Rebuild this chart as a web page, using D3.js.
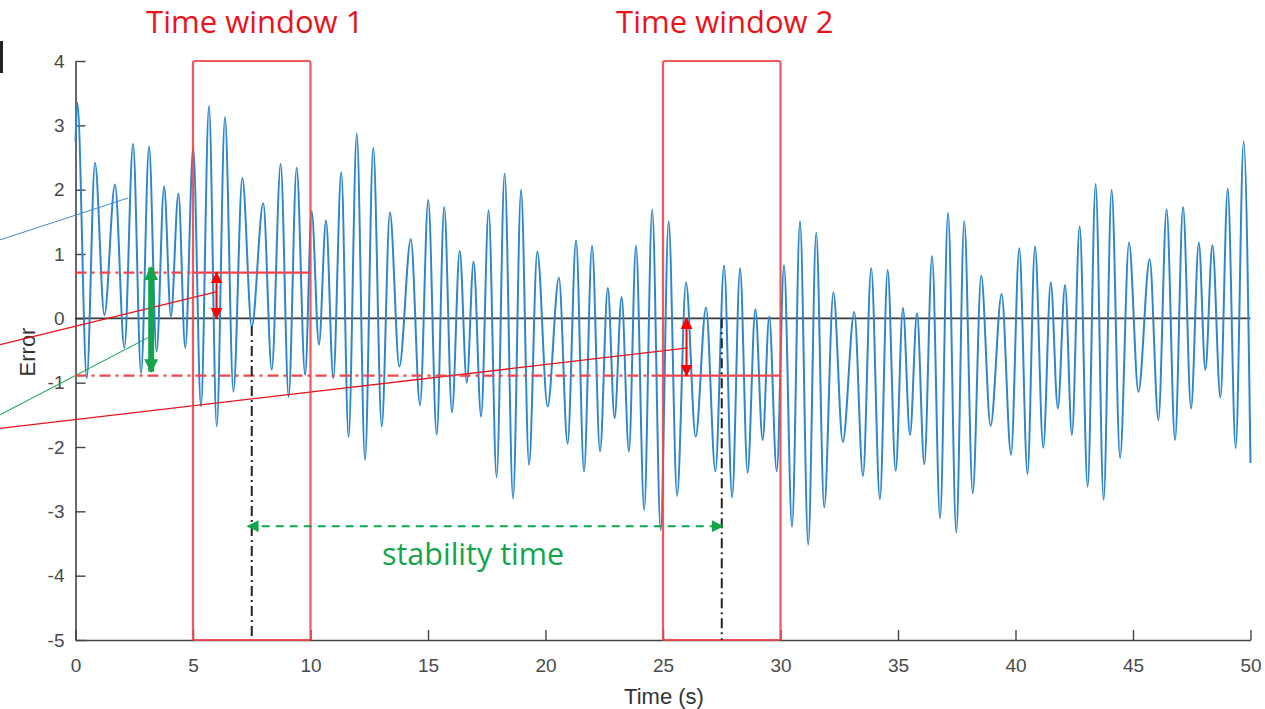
<!DOCTYPE html>
<html>
<head>
<meta charset="utf-8">
<script src="https://cdn.jsdelivr.net/npm/d3@7"></script>
<style>
    body { margin: 0; background: #fff; }
    svg { display: block; }
</style>
</head>
<body>
<svg id="chart" width="1265" height="709"></svg>
<script>
// Peaks and troughs of the error signal (s, error)
const times = [
    0, 0.08, 0.48, 0.83, 1.23, 1.68, 2.08, 2.45, 2.79, 3.13,
    3.45, 3.77, 4.06, 4.38, 4.67, 5.01, 5.34, 5.68, 6.01, 6.36,
    6.72, 7.10, 7.50, 7.99, 8.35, 8.73, 9.07, 9.41, 9.77, 10.05,
    10.36, 10.66, 10.97, 11.31, 11.62, 11.97, 12.32, 12.67, 13.03, 13.38,
    13.78, 14.27, 14.66, 15.01, 15.37, 15.69, 16.02, 16.35, 16.65, 16.94,
    17.26, 17.58, 17.92, 18.26, 18.62, 18.96, 19.30, 19.65, 20.09, 20.57,
    20.94, 21.30, 21.64, 21.98, 22.32, 22.65, 22.94, 23.24, 23.55, 23.85,
    24.20, 24.54, 24.90, 25.24, 25.60, 25.98, 26.39, 26.83, 27.23, 27.60,
    27.94, 28.28, 28.60, 28.93, 29.24, 29.52, 29.84, 30.15, 30.49, 30.83,
    31.18, 31.52, 31.86, 32.25, 32.65, 33.14, 33.51, 33.86, 34.23, 34.56,
    34.90, 35.21, 35.51, 35.81, 36.12, 36.45, 36.79, 37.13, 37.48, 37.82,
    38.18, 38.54, 38.94, 39.41, 39.81, 40.16, 40.51, 40.83, 41.18, 41.50,
    41.80, 42.11, 42.40, 42.73, 43.07, 43.41, 43.75, 44.09, 44.45, 44.83,
    45.23, 45.71, 46.08, 46.43, 46.79, 47.13, 47.47, 47.80, 48.08, 48.38,
    48.72, 49.03, 49.37, 49.71, 50
];
const errors = [
    2.75, 3.35, -0.93, 2.42, 0.05, 2.08, -0.46, 2.71, -0.85, 2.67,
    -0.52, 2.05, 0.03, 1.94, -0.46, 2.65, -1.37, 3.30, -1.68, 3.13,
    -1.14, 2.18, -0.13, 1.79, -0.80, 2.40, -1.22, 2.34, -0.88, 1.66,
    -0.41, 1.52, -0.93, 2.27, -1.84, 2.87, -2.20, 2.65, -1.68, 1.65,
    -0.75, 1.23, -1.35, 1.84, -1.81, 1.73, -1.46, 1.05, -1.00, 0.88,
    -1.53, 1.68, -2.47, 2.25, -2.80, 2.00, -2.28, 1.04, -1.37, 0.63,
    -1.95, 1.21, -2.38, 1.13, -2.07, 0.47, -1.55, 0.33, -2.07, 1.13,
    -2.98, 1.69, -3.29, 1.51, -2.76, 0.56, -1.84, 0.17, -2.38, 0.82,
    -2.78, 0.78, -2.40, 0.14, -1.89, 0.03, -2.38, 0.83, -3.24, 1.51,
    -3.52, 1.33, -2.94, 0.40, -1.92, 0.10, -2.45, 0.78, -2.81, 0.75,
    -2.37, 0.16, -1.81, 0.08, -2.27, 0.97, -3.11, 1.64, -3.33, 1.51,
    -2.72, 0.66, -1.67, 0.38, -2.12, 1.09, -2.42, 1.12, -2.01, 0.56,
    -1.40, 0.52, -1.81, 1.43, -2.62, 2.09, -2.82, 2.00, -2.17, 1.18,
    -1.14, 0.92, -1.58, 1.69, -1.89, 1.73, -1.40, 1.18, -0.80, 1.14,
    -1.23, 2.02, -2.02, 2.75, -2.25
];

const xTicks = [0, 5, 10, 15, 20, 25, 30, 35, 40, 45, 50];
const yTicks = [-5, -4, -3, -2, -1, 0, 1, 2, 3, 4];

// Annotation values, in data units
const windows = [[5, 10], [25, 30]];
const windowLabels = ['Time window 1', 'Time window 2'];
const bandUpper = 0.71;   // error bound of window 1
const bandLower = -0.89;  // error bound of window 2
const settleTimes = [7.5, 27.5];
const stabilityY = -3.23;
// leader lines that run off the left edge: [t1, v1, t2, v2]
const leaderBlue = [-3.21, 1.22, 2.23, 1.87];
const leaderGreen = [-3.21, -1.50, 3.09, -0.30];
const leaderRed = [[-3.21, -0.41, 5.98, 0.41], [-3.21, -1.71, 26.06, -0.46]];

document.addEventListener('DOMContentLoaded', function () {
    const svg = d3.select('#chart');
    const x = d3.scaleLinear().domain([0, 50]).range([75.5, 1250.5]);
    const y = d3.scaleLinear().domain([-5, 4]).range([640, 61]);

    const red = '#f0464c';
    const green = '#13a54b';
    const tickFont = '"Liberation Sans", Arial, sans-serif';

    const defs = svg.append('defs');
    function addHead(id, color, w, h) {
        defs.append('marker')
            .attr('id', id)
            .attr('viewBox', '0 0 10 10')
            .attr('refX', 9).attr('refY', 5)
            .attr('markerUnits', 'userSpaceOnUse')
            .attr('markerWidth', w).attr('markerHeight', h)
            .attr('orient', 'auto-start-reverse')
            .append('path')
            .attr('d', 'M0,0 L10,5 L0,10 Z')
            .attr('fill', color);
    }
    addHead('headRed', '#ff0000', 12, 14);
    addHead('headGreen', green, 14, 18);
    addHead('headGreenSmall', green, 14, 12);

    // axes (MATLAB style, ticks pointing inward, no box); plain hyphen for minus
    const xAxis = svg.append('g')
        .attr('transform', `translate(0,${y(-5)})`)
        .call(d3.axisBottom(x).tickValues(xTicks).tickFormat(d => String(d))
            .tickSizeInner(-10).tickSizeOuter(0).tickPadding(19));
    const yAxis = svg.append('g')
        .attr('transform', `translate(${x(0)},0)`)
        .call(d3.axisLeft(y).tickValues(yTicks).tickFormat(d => String(d))
            .tickSizeInner(-10).tickSizeOuter(0).tickPadding(11));
    [xAxis, yAxis].forEach(function (a) {
        a.select('.domain').attr('stroke', '#444').attr('stroke-width', 1.6);
        a.selectAll('.tick line').attr('stroke', '#444').attr('stroke-width', 1.4);
        a.selectAll('.tick text')
            .attr('fill', '#4a4a4a')
            .style('font-family', tickFont)
            .style('font-size', '19px');
    });

    svg.append('text')
        .attr('x', 664).attr('y', 704)
        .attr('text-anchor', 'middle')
        .attr('fill', '#333')
        .style('font-family', tickFont)
        .style('font-size', '22px')
        .text('Time (s)');
    svg.append('text')
        .attr('transform', 'translate(35,352) rotate(-90)')
        .attr('text-anchor', 'middle')
        .attr('fill', '#333')
        .style('font-family', tickFont)
        .style('font-size', '22px')
        .text('Error');

    // zero line
    svg.append('line')
        .attr('x1', x(0)).attr('x2', x(50))
        .attr('y1', y(0)).attr('y2', y(0))
        .attr('stroke', '#3a3a3a').attr('stroke-width', 1.6);

    // signal
    const pts = d3.zip(times, errors);
    svg.append('path')
        .datum(pts)
        .attr('fill', 'none')
        .attr('stroke', '#2f86c9')
        .attr('stroke-width', 2)
        .attr('d', d3.line().x(d => x(d[0])).y(d => y(d[1])).curve(d3.curveMonotoneX));

    // leader lines coming in from the left
    function leader(l, color, w) {
        svg.append('line')
            .attr('x1', x(l[0])).attr('y1', y(l[1]))
            .attr('x2', x(l[2])).attr('y2', y(l[3]))
            .attr('stroke', color).attr('stroke-width', w);
    }
    leader(leaderBlue, '#3d8bcc', 1);
    leader(leaderGreen, green, 1.1);
    leaderRed.forEach(l => leader(l, '#e8141c', 1.3));

    // error band lines: dash-dot outside the window, solid inside
    const dashDot = '11,5,3,5';
    [[bandUpper, windows[0]], [bandLower, windows[1]]].forEach(function (b) {
        svg.append('line')
            .attr('x1', x(0)).attr('x2', x(b[1][0]))
            .attr('y1', y(b[0])).attr('y2', y(b[0]))
            .attr('stroke', red).attr('stroke-width', 2.2)
            .attr('stroke-dasharray', dashDot);
        svg.append('line')
            .attr('x1', x(b[1][0])).attr('x2', x(b[1][1]))
            .attr('y1', y(b[0])).attr('y2', y(b[0]))
            .attr('stroke', red).attr('stroke-width', 2.2);
    });

    // time windows
    windows.forEach(function (w, i) {
        svg.append('rect')
            .attr('x', x(w[0])).attr('y', y(4))
            .attr('width', x(w[1]) - x(w[0]))
            .attr('height', y(-5) - y(4))
            .attr('rx', 2)
            .attr('fill', 'none')
            .attr('stroke', red).attr('stroke-opacity', 0.9)
            .attr('stroke-width', 2.2);
        svg.append('text')
            .attr('x', x((w[0] + w[1]) / 2) + 3).attr('y', 33)
            .attr('text-anchor', 'middle')
            .attr('fill', '#e8141c')
            .style('font-family', '"Open Sans", sans-serif')
            .style('font-size', '31px')
            .text(windowLabels[i]);
    });

    // settling markers
    settleTimes.forEach(function (t, i) {
        svg.append('line')
            .attr('x1', x(t)).attr('x2', x(t))
            .attr('y1', y(i === 0 ? -0.12 : 0)).attr('y2', y(-5))
            .attr('stroke', '#222').attr('stroke-width', 2)
            .attr('stroke-dasharray', '10,4,2,4');
    });

    // red double arrows showing the error bound
    [[6.0, bandUpper, 0], [26.0, 0, bandLower]].forEach(function (a) {
        svg.append('line')
            .attr('x1', x(a[0])).attr('x2', x(a[0]))
            .attr('y1', y(a[1])).attr('y2', y(a[2]))
            .attr('stroke', '#ff0000').attr('stroke-width', 2)
            .attr('marker-start', 'url(#headRed)')
            .attr('marker-end', 'url(#headRed)');
    });

    // thick green double arrow spanning the band
    svg.append('line')
        .attr('x1', x(3.22)).attr('x2', x(3.22))
        .attr('y1', y(0.79)).attr('y2', y(-0.83))
        .attr('stroke', green).attr('stroke-width', 6)
        .attr('marker-start', 'url(#headGreen)')
        .attr('marker-end', 'url(#headGreen)');

    // stability time
    svg.append('line')
        .attr('x1', x(settleTimes[0]) - 4).attr('x2', x(settleTimes[1]) + 1)
        .attr('y1', y(stabilityY)).attr('y2', y(stabilityY))
        .attr('stroke', green).attr('stroke-width', 2)
        .attr('stroke-dasharray', '8,6')
        .attr('marker-start', 'url(#headGreenSmall)')
        .attr('marker-end', 'url(#headGreenSmall)');
    svg.append('text')
        .attr('x', 473).attr('y', 565)
        .attr('text-anchor', 'middle')
        .attr('fill', green)
        .style('font-family', '"Open Sans", sans-serif')
        .style('font-size', '30.5px')
        .text('stability time');

    // cropped mark at the top-left corner
    svg.append('rect')
        .attr('x', 0).attr('y', 41).attr('width', 3).attr('height', 32)
        .attr('fill', '#222');
});
</script>
</body>
</html>
